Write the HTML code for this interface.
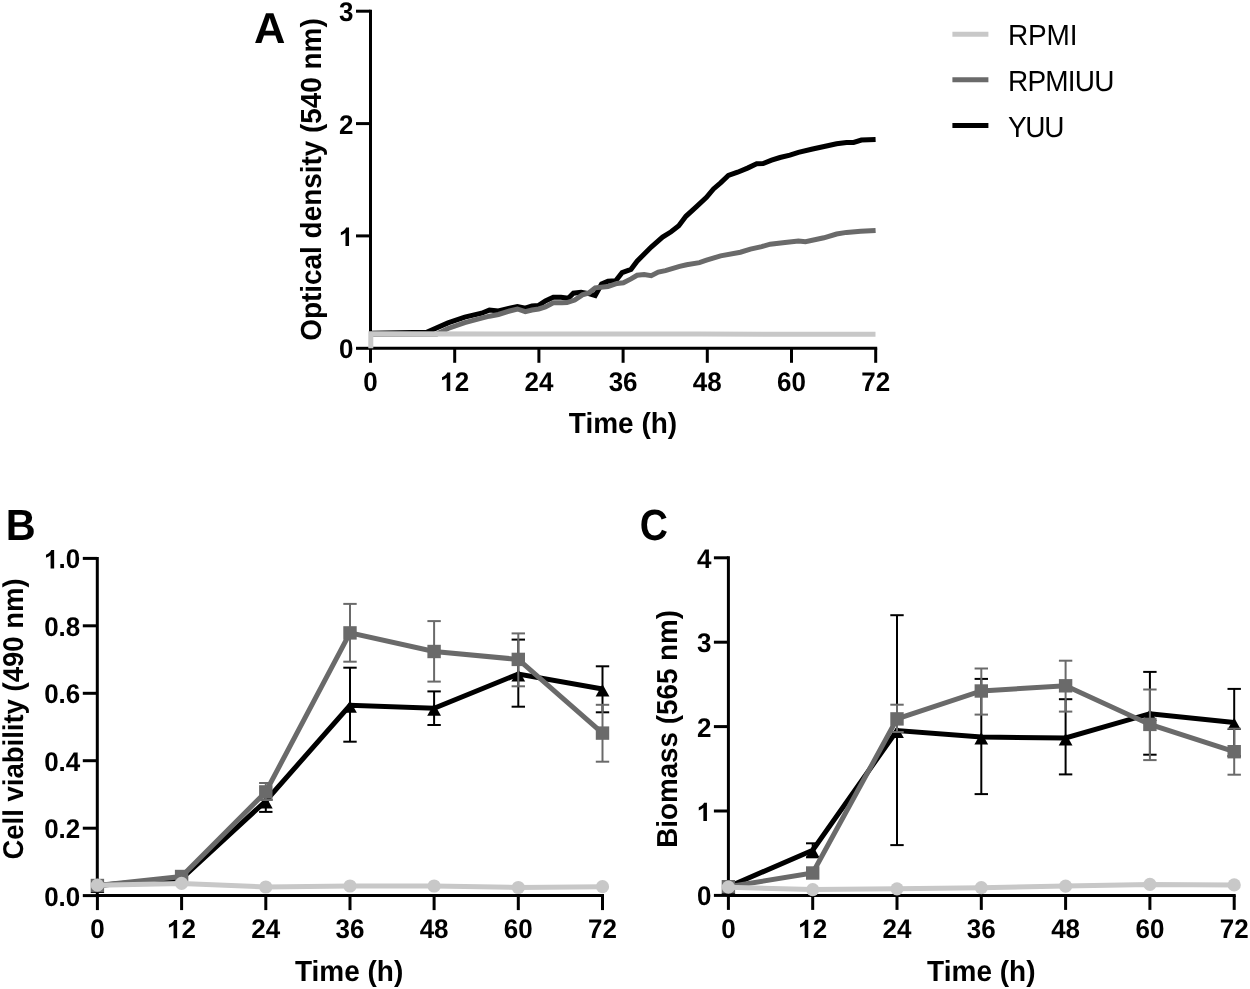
<!DOCTYPE html><html><head><meta charset="utf-8"><style>html,body{margin:0;padding:0;background:#fff;}svg{display:block;will-change:transform;}text{font-family:"Liberation Sans",sans-serif;text-rendering:geometricPrecision;}</style></head><body>
<svg width="1250" height="989" viewBox="0 0 1250 989" font-family="Liberation Sans, sans-serif">
<rect width="1250" height="989" fill="#fff"/>
<line x1="370.5" y1="9.7" x2="370.5" y2="349.8" stroke="#000" stroke-width="3"/>
<line x1="369" y1="348.3" x2="877.2" y2="348.3" stroke="#000" stroke-width="3"/>
<line x1="356" y1="348.3" x2="370.5" y2="348.3" stroke="#000" stroke-width="3"/>
<text transform="translate(353.5,358.3) scale(1.000,1.0405)" font-size="26" font-weight="bold" text-anchor="end" >0</text>
<line x1="356" y1="235.9" x2="370.5" y2="235.9" stroke="#000" stroke-width="3"/>
<path transform="translate(339.04,245.93) scale(0.01270,-0.01250)" d="M787,0H506V1059Q352,915 143,846V1101Q253,1137 382,1237Q511,1337 559,1466H787Z"/>
<line x1="356" y1="123.6" x2="370.5" y2="123.6" stroke="#000" stroke-width="3"/>
<text transform="translate(353.5,133.6) scale(1.000,1.0405)" font-size="26" font-weight="bold" text-anchor="end" >2</text>
<line x1="356" y1="11.2" x2="370.5" y2="11.2" stroke="#000" stroke-width="3"/>
<text transform="translate(353.5,21.2) scale(1.000,1.0405)" font-size="26" font-weight="bold" text-anchor="end" >3</text>
<line x1="370.5" y1="348.3" x2="370.5" y2="362.8" stroke="#000" stroke-width="3"/>
<text transform="translate(370.5,390.9) scale(1.000,1.0405)" font-size="26" font-weight="bold" text-anchor="middle" >0</text>
<line x1="454.7" y1="348.3" x2="454.7" y2="362.8" stroke="#000" stroke-width="3"/>
<text transform="translate(454.7,390.9) scale(1.000,1.0405)" font-size="26" font-weight="bold" text-anchor="middle" > 2</text>
<path transform="translate(440.24,390.90) scale(0.01270,-0.01250)" d="M787,0H506V1059Q352,915 143,846V1101Q253,1137 382,1237Q511,1337 559,1466H787Z"/>
<line x1="538.9" y1="348.3" x2="538.9" y2="362.8" stroke="#000" stroke-width="3"/>
<text transform="translate(538.9,390.9) scale(1.000,1.0405)" font-size="26" font-weight="bold" text-anchor="middle" >24</text>
<line x1="623.1" y1="348.3" x2="623.1" y2="362.8" stroke="#000" stroke-width="3"/>
<text transform="translate(623.1,390.9) scale(1.000,1.0405)" font-size="26" font-weight="bold" text-anchor="middle" >36</text>
<line x1="707.3" y1="348.3" x2="707.3" y2="362.8" stroke="#000" stroke-width="3"/>
<text transform="translate(707.3,390.9) scale(1.000,1.0405)" font-size="26" font-weight="bold" text-anchor="middle" >48</text>
<line x1="791.5" y1="348.3" x2="791.5" y2="362.8" stroke="#000" stroke-width="3"/>
<text transform="translate(791.5,390.9) scale(1.000,1.0405)" font-size="26" font-weight="bold" text-anchor="middle" >60</text>
<line x1="875.7" y1="348.3" x2="875.7" y2="362.8" stroke="#000" stroke-width="3"/>
<text transform="translate(875.7,390.9) scale(1.000,1.0405)" font-size="26" font-weight="bold" text-anchor="middle" >72</text>
<text transform="translate(623,432.9) scale(1.000,1.0405)" font-size="28" font-weight="bold" text-anchor="middle" >Time (h)</text>
<text transform="translate(321,179.5) rotate(-90) scale(1.000,1.0405)" font-size="27.9" font-weight="bold" text-anchor="middle" >Optical density (540 nm)</text>
<text transform="translate(254,42.8) scale(1.035,1.0300)" font-size="42" font-weight="bold" text-anchor="start" >A</text>
<polyline points="370.5,333.3 426.7,332.3 448,322.9 464.8,317.1 481.6,313.2 489.4,310.1 498.4,311 509.6,308.2 517.4,306.5 525.3,308.2 532,305.9 538.7,305.4 545.4,300.9 553.3,297.2 561,297.3 568.3,298.3 573.4,293.2 581.1,292.3 588.8,293.6 595.2,295.5 601.6,284 608,281.2 615.7,280.8 622.1,272.7 631,269.3 637.1,261.2 651.2,247 662.6,237.1 671.1,231.8 678.8,225.8 685.9,216.3 696.5,206.6 706.5,197.4 713.5,188.9 720.6,182.8 728.4,175.5 737.6,172.2 747.5,168.1 756.7,163.7 763.1,163.5 771.6,160.2 780,157.5 789.9,155.1 798.4,152.3 812.6,149 825.3,146.2 836.6,143.8 846.5,142.4 853.6,142.4 861.4,140.1 875.6,139.5" fill="none" stroke="#000" stroke-width="5" stroke-linejoin="miter" stroke-linecap="butt" />
<polyline points="370.5,334.2 436.8,334 448,328.5 464.8,322.7 481.6,318.2 489.4,316.2 498.4,314.5 509.6,311 517.4,309 525.3,311.7 532,310 538.7,309 545.4,307 553.3,302.8 562,302.7 567,302.6 574.7,300 582.4,294.9 588.8,293 595.2,287.8 608,286.6 617,283.4 623.4,282.7 631,278.9 637.1,275.3 644.2,274.6 651.2,275.7 658.3,272.1 665.4,270.6 679.6,266.4 686.6,264.7 699.4,262.6 706.5,260.2 720.6,255.9 740.4,252.2 750.4,249.1 761.7,246.6 770.2,244.2 785,242.5 798.4,241 805.5,241.7 823.9,237.8 836.6,234 846.5,232.4 860.7,231.2 875.6,230.4" fill="none" stroke="#6a6a6a" stroke-width="5" stroke-linejoin="miter" stroke-linecap="butt" />
<polyline points="370.8,348.3 370.8,333.8 500,333.9 700,334.1 875.5,334.3" fill="none" stroke="#c8c8c8" stroke-width="5" stroke-linejoin="miter" stroke-linecap="butt" />
<line x1="952.4" y1="34.2" x2="988.4" y2="34.2" stroke="#c8c8c8" stroke-width="5"/>
<text transform="translate(1008,45.1) scale(1.000,1.0405)" font-size="28" font-weight="normal" text-anchor="start" textLength="69.5" lengthAdjust="spacing">RPMI</text>
<line x1="952.4" y1="79.8" x2="988.4" y2="79.8" stroke="#6a6a6a" stroke-width="5"/>
<text transform="translate(1008,90.7) scale(1.000,1.0405)" font-size="28" font-weight="normal" text-anchor="start" textLength="106.5" lengthAdjust="spacing">RPMIUU</text>
<line x1="952.4" y1="125.6" x2="988.4" y2="125.6" stroke="#000" stroke-width="5"/>
<text transform="translate(1008,136.5) scale(1.000,1.0405)" font-size="28" font-weight="normal" text-anchor="start" textLength="56.5" lengthAdjust="spacing">YUU</text>
<line x1="97.3" y1="556.9" x2="97.3" y2="897.1" stroke="#000" stroke-width="3"/>
<line x1="95.8" y1="895.6" x2="604" y2="895.6" stroke="#000" stroke-width="3"/>
<line x1="82.8" y1="895.6" x2="97.3" y2="895.6" stroke="#000" stroke-width="3"/>
<text transform="translate(80.3,905.6) scale(1.000,1.0405)" font-size="26" font-weight="bold" text-anchor="end" >0.0</text>
<line x1="82.8" y1="828.2" x2="97.3" y2="828.2" stroke="#000" stroke-width="3"/>
<text transform="translate(80.3,838.2) scale(1.000,1.0405)" font-size="26" font-weight="bold" text-anchor="end" >0.2</text>
<line x1="82.8" y1="760.7" x2="97.3" y2="760.7" stroke="#000" stroke-width="3"/>
<text transform="translate(80.3,770.7) scale(1.000,1.0405)" font-size="26" font-weight="bold" text-anchor="end" >0.4</text>
<line x1="82.8" y1="693.3" x2="97.3" y2="693.3" stroke="#000" stroke-width="3"/>
<text transform="translate(80.3,703.3) scale(1.000,1.0405)" font-size="26" font-weight="bold" text-anchor="end" >0.6</text>
<line x1="82.8" y1="625.8" x2="97.3" y2="625.8" stroke="#000" stroke-width="3"/>
<text transform="translate(80.3,635.8) scale(1.000,1.0405)" font-size="26" font-weight="bold" text-anchor="end" >0.8</text>
<line x1="82.8" y1="558.4" x2="97.3" y2="558.4" stroke="#000" stroke-width="3"/>
<text transform="translate(80.3,568.4) scale(1.000,1.0405)" font-size="26" font-weight="bold" text-anchor="end" > .0</text>
<path transform="translate(44.16,568.40) scale(0.01270,-0.01250)" d="M787,0H506V1059Q352,915 143,846V1101Q253,1137 382,1237Q511,1337 559,1466H787Z"/>
<line x1="97.4" y1="895.6" x2="97.4" y2="910.1" stroke="#000" stroke-width="3"/>
<text transform="translate(97.4,938.2) scale(1.000,1.0405)" font-size="26" font-weight="bold" text-anchor="middle" >0</text>
<line x1="181.6" y1="895.6" x2="181.6" y2="910.1" stroke="#000" stroke-width="3"/>
<text transform="translate(181.6,938.2) scale(1.000,1.0405)" font-size="26" font-weight="bold" text-anchor="middle" > 2</text>
<path transform="translate(167.12,938.20) scale(0.01270,-0.01250)" d="M787,0H506V1059Q352,915 143,846V1101Q253,1137 382,1237Q511,1337 559,1466H787Z"/>
<line x1="265.8" y1="895.6" x2="265.8" y2="910.1" stroke="#000" stroke-width="3"/>
<text transform="translate(265.8,938.2) scale(1.000,1.0405)" font-size="26" font-weight="bold" text-anchor="middle" >24</text>
<line x1="350" y1="895.6" x2="350" y2="910.1" stroke="#000" stroke-width="3"/>
<text transform="translate(350,938.2) scale(1.000,1.0405)" font-size="26" font-weight="bold" text-anchor="middle" >36</text>
<line x1="434.1" y1="895.6" x2="434.1" y2="910.1" stroke="#000" stroke-width="3"/>
<text transform="translate(434.1,938.2) scale(1.000,1.0405)" font-size="26" font-weight="bold" text-anchor="middle" >48</text>
<line x1="518.3" y1="895.6" x2="518.3" y2="910.1" stroke="#000" stroke-width="3"/>
<text transform="translate(518.3,938.2) scale(1.000,1.0405)" font-size="26" font-weight="bold" text-anchor="middle" >60</text>
<line x1="602.5" y1="895.6" x2="602.5" y2="910.1" stroke="#000" stroke-width="3"/>
<text transform="translate(602.5,938.2) scale(1.000,1.0405)" font-size="26" font-weight="bold" text-anchor="middle" >72</text>
<text transform="translate(349.1,981) scale(1.000,1.0405)" font-size="28" font-weight="bold" text-anchor="middle" >Time (h)</text>
<text transform="translate(23.2,719) rotate(-90) scale(1.000,1.0405)" font-size="27.5" font-weight="bold" text-anchor="middle" >Cell viability (490 nm)</text>
<text transform="translate(5.8,539.9) scale(0.985,1.0350)" font-size="42" font-weight="bold" text-anchor="start" >B</text>
<line x1="265.8" y1="799.7" x2="265.8" y2="811.9" stroke="#000" stroke-width="2"/>
<line x1="259.1" y1="799.7" x2="272.5" y2="799.7" stroke="#000" stroke-width="2"/>
<line x1="259.1" y1="811.9" x2="272.5" y2="811.9" stroke="#000" stroke-width="2"/>
<line x1="350" y1="667.7" x2="350" y2="741.7" stroke="#000" stroke-width="2"/>
<line x1="343.3" y1="667.7" x2="356.7" y2="667.7" stroke="#000" stroke-width="2"/>
<line x1="343.3" y1="741.7" x2="356.7" y2="741.7" stroke="#000" stroke-width="2"/>
<line x1="434.1" y1="691.4" x2="434.1" y2="725" stroke="#000" stroke-width="2"/>
<line x1="427.4" y1="691.4" x2="440.8" y2="691.4" stroke="#000" stroke-width="2"/>
<line x1="427.4" y1="725" x2="440.8" y2="725" stroke="#000" stroke-width="2"/>
<line x1="518.3" y1="639.6" x2="518.3" y2="706.7" stroke="#000" stroke-width="2"/>
<line x1="511.6" y1="639.6" x2="525" y2="639.6" stroke="#000" stroke-width="2"/>
<line x1="511.6" y1="706.7" x2="525" y2="706.7" stroke="#000" stroke-width="2"/>
<line x1="602.5" y1="666.3" x2="602.5" y2="712.3" stroke="#000" stroke-width="2"/>
<line x1="595.8" y1="666.3" x2="609.2" y2="666.3" stroke="#000" stroke-width="2"/>
<line x1="595.8" y1="712.3" x2="609.2" y2="712.3" stroke="#000" stroke-width="2"/>
<polyline points="97.4,885.5 181.6,878.5 265.8,801 350,705.3 434.1,708.3 518.3,674 602.5,689" fill="none" stroke="#000" stroke-width="5" stroke-linejoin="miter" stroke-linecap="butt" />
<polygon points="90.5,892.9 104.3,892.9 97.4,880.7" fill="#000"/>
<polygon points="174.7,885.9 188.5,885.9 181.6,873.7" fill="#000"/>
<polygon points="258.9,808.4 272.7,808.4 265.8,796.2" fill="#000"/>
<polygon points="343.1,712.7 356.9,712.7 350,700.5" fill="#000"/>
<polygon points="427.2,715.7 441,715.7 434.1,703.5" fill="#000"/>
<polygon points="511.4,681.4 525.2,681.4 518.3,669.2" fill="#000"/>
<polygon points="595.6,696.4 609.4,696.4 602.5,684.2" fill="#000"/>
<line x1="265.8" y1="783" x2="265.8" y2="800" stroke="#6a6a6a" stroke-width="2"/>
<line x1="259.1" y1="783" x2="272.5" y2="783" stroke="#6a6a6a" stroke-width="2"/>
<line x1="259.1" y1="800" x2="272.5" y2="800" stroke="#6a6a6a" stroke-width="2"/>
<line x1="350" y1="603.9" x2="350" y2="661.7" stroke="#6a6a6a" stroke-width="2"/>
<line x1="343.3" y1="603.9" x2="356.7" y2="603.9" stroke="#6a6a6a" stroke-width="2"/>
<line x1="343.3" y1="661.7" x2="356.7" y2="661.7" stroke="#6a6a6a" stroke-width="2"/>
<line x1="434.1" y1="621.1" x2="434.1" y2="681.6" stroke="#6a6a6a" stroke-width="2"/>
<line x1="427.4" y1="621.1" x2="440.8" y2="621.1" stroke="#6a6a6a" stroke-width="2"/>
<line x1="427.4" y1="681.6" x2="440.8" y2="681.6" stroke="#6a6a6a" stroke-width="2"/>
<line x1="518.3" y1="633.4" x2="518.3" y2="686.3" stroke="#6a6a6a" stroke-width="2"/>
<line x1="511.6" y1="633.4" x2="525" y2="633.4" stroke="#6a6a6a" stroke-width="2"/>
<line x1="511.6" y1="686.3" x2="525" y2="686.3" stroke="#6a6a6a" stroke-width="2"/>
<line x1="602.5" y1="704.8" x2="602.5" y2="761.7" stroke="#6a6a6a" stroke-width="2"/>
<line x1="595.8" y1="704.8" x2="609.2" y2="704.8" stroke="#6a6a6a" stroke-width="2"/>
<line x1="595.8" y1="761.7" x2="609.2" y2="761.7" stroke="#6a6a6a" stroke-width="2"/>
<polyline points="97.4,885.5 181.6,876.5 265.8,791.9 350,632.9 434.1,651.5 518.3,659.4 602.5,733.1" fill="none" stroke="#6a6a6a" stroke-width="5" stroke-linejoin="miter" stroke-linecap="butt" />
<rect x="90.7" y="878.8" width="13.4" height="13.4" fill="#6a6a6a"/>
<rect x="174.9" y="869.8" width="13.4" height="13.4" fill="#6a6a6a"/>
<rect x="259.1" y="785.2" width="13.4" height="13.4" fill="#6a6a6a"/>
<rect x="343.3" y="626.2" width="13.4" height="13.4" fill="#6a6a6a"/>
<rect x="427.4" y="644.8" width="13.4" height="13.4" fill="#6a6a6a"/>
<rect x="511.6" y="652.7" width="13.4" height="13.4" fill="#6a6a6a"/>
<rect x="595.8" y="726.4" width="13.4" height="13.4" fill="#6a6a6a"/>
<polyline points="97.4,885.2 181.6,883.4 265.8,887 350,886 434.1,886 518.3,887.5 602.5,886.7" fill="none" stroke="#c8c8c8" stroke-width="5" stroke-linejoin="miter" stroke-linecap="butt" />
<circle cx="97.4" cy="885.2" r="6.6" fill="#c8c8c8"/>
<circle cx="181.6" cy="883.4" r="6.6" fill="#c8c8c8"/>
<circle cx="265.8" cy="887" r="6.6" fill="#c8c8c8"/>
<circle cx="350" cy="886" r="6.6" fill="#c8c8c8"/>
<circle cx="434.1" cy="886" r="6.6" fill="#c8c8c8"/>
<circle cx="518.3" cy="887.5" r="6.6" fill="#c8c8c8"/>
<circle cx="602.5" cy="886.7" r="6.6" fill="#c8c8c8"/>
<line x1="728.4" y1="556.3" x2="728.4" y2="896.9" stroke="#000" stroke-width="3"/>
<line x1="726.9" y1="895.4" x2="1235.7" y2="895.4" stroke="#000" stroke-width="3"/>
<line x1="713.9" y1="895.4" x2="728.4" y2="895.4" stroke="#000" stroke-width="3"/>
<text transform="translate(711.4,905.4) scale(1.000,1.0405)" font-size="26" font-weight="bold" text-anchor="end" >0</text>
<line x1="713.9" y1="811" x2="728.4" y2="811" stroke="#000" stroke-width="3"/>
<path transform="translate(696.94,821.00) scale(0.01270,-0.01250)" d="M787,0H506V1059Q352,915 143,846V1101Q253,1137 382,1237Q511,1337 559,1466H787Z"/>
<line x1="713.9" y1="726.6" x2="728.4" y2="726.6" stroke="#000" stroke-width="3"/>
<text transform="translate(711.4,736.6) scale(1.000,1.0405)" font-size="26" font-weight="bold" text-anchor="end" >2</text>
<line x1="713.9" y1="642.2" x2="728.4" y2="642.2" stroke="#000" stroke-width="3"/>
<text transform="translate(711.4,652.2) scale(1.000,1.0405)" font-size="26" font-weight="bold" text-anchor="end" >3</text>
<line x1="713.9" y1="557.8" x2="728.4" y2="557.8" stroke="#000" stroke-width="3"/>
<text transform="translate(711.4,567.8) scale(1.000,1.0405)" font-size="26" font-weight="bold" text-anchor="end" >4</text>
<line x1="728.4" y1="895.4" x2="728.4" y2="909.9" stroke="#000" stroke-width="3"/>
<text transform="translate(728.4,938) scale(1.000,1.0405)" font-size="26" font-weight="bold" text-anchor="middle" >0</text>
<line x1="812.7" y1="895.4" x2="812.7" y2="909.9" stroke="#000" stroke-width="3"/>
<text transform="translate(812.7,938) scale(1.000,1.0405)" font-size="26" font-weight="bold" text-anchor="middle" > 2</text>
<path transform="translate(798.24,938.00) scale(0.01270,-0.01250)" d="M787,0H506V1059Q352,915 143,846V1101Q253,1137 382,1237Q511,1337 559,1466H787Z"/>
<line x1="897" y1="895.4" x2="897" y2="909.9" stroke="#000" stroke-width="3"/>
<text transform="translate(897,938) scale(1.000,1.0405)" font-size="26" font-weight="bold" text-anchor="middle" >24</text>
<line x1="981.3" y1="895.4" x2="981.3" y2="909.9" stroke="#000" stroke-width="3"/>
<text transform="translate(981.3,938) scale(1.000,1.0405)" font-size="26" font-weight="bold" text-anchor="middle" >36</text>
<line x1="1065.6" y1="895.4" x2="1065.6" y2="909.9" stroke="#000" stroke-width="3"/>
<text transform="translate(1065.6,938) scale(1.000,1.0405)" font-size="26" font-weight="bold" text-anchor="middle" >48</text>
<line x1="1149.9" y1="895.4" x2="1149.9" y2="909.9" stroke="#000" stroke-width="3"/>
<text transform="translate(1149.9,938) scale(1.000,1.0405)" font-size="26" font-weight="bold" text-anchor="middle" >60</text>
<line x1="1234.2" y1="895.4" x2="1234.2" y2="909.9" stroke="#000" stroke-width="3"/>
<text transform="translate(1234.2,938) scale(1.000,1.0405)" font-size="26" font-weight="bold" text-anchor="middle" >72</text>
<text transform="translate(981.3,981) scale(1.000,1.0405)" font-size="28" font-weight="bold" text-anchor="middle" >Time (h)</text>
<text transform="translate(677,728.9) rotate(-90) scale(1.000,1.0405)" font-size="27.8" font-weight="bold" text-anchor="middle" >Biomass (565 nm)</text>
<text transform="translate(639.7,540.1) scale(0.930,1.0405)" font-size="42" font-weight="bold" text-anchor="start" >C</text>
<line x1="812.7" y1="843.3" x2="812.7" y2="857.3" stroke="#000" stroke-width="2"/>
<line x1="806" y1="843.3" x2="819.4" y2="843.3" stroke="#000" stroke-width="2"/>
<line x1="806" y1="857.3" x2="819.4" y2="857.3" stroke="#000" stroke-width="2"/>
<line x1="897" y1="615.2" x2="897" y2="845.1" stroke="#000" stroke-width="2"/>
<line x1="890.3" y1="615.2" x2="903.7" y2="615.2" stroke="#000" stroke-width="2"/>
<line x1="890.3" y1="845.1" x2="903.7" y2="845.1" stroke="#000" stroke-width="2"/>
<line x1="981.3" y1="678.9" x2="981.3" y2="794.1" stroke="#000" stroke-width="2"/>
<line x1="974.6" y1="678.9" x2="988" y2="678.9" stroke="#000" stroke-width="2"/>
<line x1="974.6" y1="794.1" x2="988" y2="794.1" stroke="#000" stroke-width="2"/>
<line x1="1065.6" y1="699.2" x2="1065.6" y2="774.4" stroke="#000" stroke-width="2"/>
<line x1="1058.9" y1="699.2" x2="1072.3" y2="699.2" stroke="#000" stroke-width="2"/>
<line x1="1058.9" y1="774.4" x2="1072.3" y2="774.4" stroke="#000" stroke-width="2"/>
<line x1="1149.9" y1="671.9" x2="1149.9" y2="754.7" stroke="#000" stroke-width="2"/>
<line x1="1143.2" y1="671.9" x2="1156.6" y2="671.9" stroke="#000" stroke-width="2"/>
<line x1="1143.2" y1="754.7" x2="1156.6" y2="754.7" stroke="#000" stroke-width="2"/>
<line x1="1234.2" y1="688.9" x2="1234.2" y2="756.1" stroke="#000" stroke-width="2"/>
<line x1="1227.5" y1="688.9" x2="1240.9" y2="688.9" stroke="#000" stroke-width="2"/>
<line x1="1227.5" y1="756.1" x2="1240.9" y2="756.1" stroke="#000" stroke-width="2"/>
<polyline points="728.4,886.7 812.7,850.3 897,730.5 981.3,737.1 1065.6,738 1149.9,713.7 1234.2,722.5" fill="none" stroke="#000" stroke-width="5" stroke-linejoin="miter" stroke-linecap="butt" />
<polygon points="721.5,894.1 735.3,894.1 728.4,881.9" fill="#000"/>
<polygon points="805.8,857.7 819.6,857.7 812.7,845.5" fill="#000"/>
<polygon points="890.1,737.9 903.9,737.9 897,725.7" fill="#000"/>
<polygon points="974.4,744.5 988.2,744.5 981.3,732.3" fill="#000"/>
<polygon points="1058.7,745.4 1072.5,745.4 1065.6,733.2" fill="#000"/>
<polygon points="1143,721.1 1156.8,721.1 1149.9,708.9" fill="#000"/>
<polygon points="1227.3,729.9 1241.1,729.9 1234.2,717.7" fill="#000"/>
<line x1="897" y1="704.7" x2="897" y2="732" stroke="#6a6a6a" stroke-width="2"/>
<line x1="890.3" y1="704.7" x2="903.7" y2="704.7" stroke="#6a6a6a" stroke-width="2"/>
<line x1="890.3" y1="732" x2="903.7" y2="732" stroke="#6a6a6a" stroke-width="2"/>
<line x1="981.3" y1="668.5" x2="981.3" y2="714.6" stroke="#6a6a6a" stroke-width="2"/>
<line x1="974.6" y1="668.5" x2="988" y2="668.5" stroke="#6a6a6a" stroke-width="2"/>
<line x1="974.6" y1="714.6" x2="988" y2="714.6" stroke="#6a6a6a" stroke-width="2"/>
<line x1="1065.6" y1="660.7" x2="1065.6" y2="711.6" stroke="#6a6a6a" stroke-width="2"/>
<line x1="1058.9" y1="660.7" x2="1072.3" y2="660.7" stroke="#6a6a6a" stroke-width="2"/>
<line x1="1058.9" y1="711.6" x2="1072.3" y2="711.6" stroke="#6a6a6a" stroke-width="2"/>
<line x1="1149.9" y1="689.5" x2="1149.9" y2="760.1" stroke="#6a6a6a" stroke-width="2"/>
<line x1="1143.2" y1="689.5" x2="1156.6" y2="689.5" stroke="#6a6a6a" stroke-width="2"/>
<line x1="1143.2" y1="760.1" x2="1156.6" y2="760.1" stroke="#6a6a6a" stroke-width="2"/>
<line x1="1234.2" y1="728.7" x2="1234.2" y2="774.7" stroke="#6a6a6a" stroke-width="2"/>
<line x1="1227.5" y1="728.7" x2="1240.9" y2="728.7" stroke="#6a6a6a" stroke-width="2"/>
<line x1="1227.5" y1="774.7" x2="1240.9" y2="774.7" stroke="#6a6a6a" stroke-width="2"/>
<polyline points="728.4,886.7 812.7,873 897,718.9 981.3,691 1065.6,685.8 1149.9,724.4 1234.2,751.7" fill="none" stroke="#6a6a6a" stroke-width="5" stroke-linejoin="miter" stroke-linecap="butt" />
<rect x="721.7" y="880" width="13.4" height="13.4" fill="#6a6a6a"/>
<rect x="806" y="866.3" width="13.4" height="13.4" fill="#6a6a6a"/>
<rect x="890.3" y="712.2" width="13.4" height="13.4" fill="#6a6a6a"/>
<rect x="974.6" y="684.3" width="13.4" height="13.4" fill="#6a6a6a"/>
<rect x="1058.9" y="679.1" width="13.4" height="13.4" fill="#6a6a6a"/>
<rect x="1143.2" y="717.7" width="13.4" height="13.4" fill="#6a6a6a"/>
<rect x="1227.5" y="745" width="13.4" height="13.4" fill="#6a6a6a"/>
<polyline points="728.4,887.2 812.7,889.6 897,888.8 981.3,887.7 1065.6,886.1 1149.9,884.4 1234.2,884.9" fill="none" stroke="#c8c8c8" stroke-width="5" stroke-linejoin="miter" stroke-linecap="butt" />
<circle cx="728.4" cy="887.2" r="6.6" fill="#c8c8c8"/>
<circle cx="812.7" cy="889.6" r="6.6" fill="#c8c8c8"/>
<circle cx="897" cy="888.8" r="6.6" fill="#c8c8c8"/>
<circle cx="981.3" cy="887.7" r="6.6" fill="#c8c8c8"/>
<circle cx="1065.6" cy="886.1" r="6.6" fill="#c8c8c8"/>
<circle cx="1149.9" cy="884.4" r="6.6" fill="#c8c8c8"/>
<circle cx="1234.2" cy="884.9" r="6.6" fill="#c8c8c8"/>
</svg></body></html>
